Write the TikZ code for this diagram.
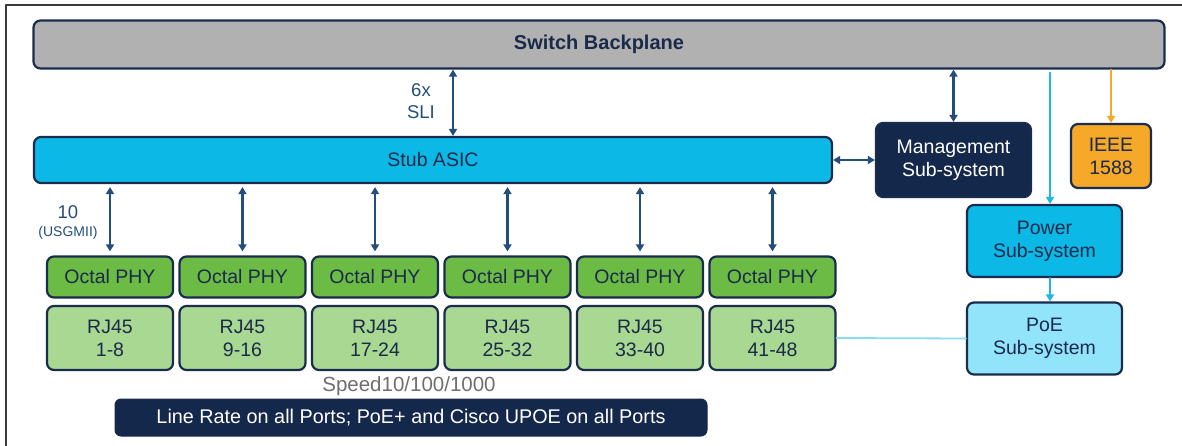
\documentclass[tikz,border=0pt]{standalone}
\usepackage{fontspec}
\setmainfont{Liberation Sans}
\usetikzlibrary{arrows.meta, calc}

\definecolor{navyline}{HTML}{1A2C4E}
\definecolor{navytext}{HTML}{1B2A4A}
\definecolor{arrowblue}{HTML}{234E7C}
\definecolor{planegray}{HTML}{B1B1B1}
\definecolor{asiccyan}{HTML}{0CB8E6}
\definecolor{phygreen}{HTML}{6CBB45}
\definecolor{rjgreen}{HTML}{A8D891}
\definecolor{mgmtnavy}{HTML}{14284B}
\definecolor{ieeeorange}{HTML}{F6A828}
\definecolor{poecyan}{HTML}{92E4FA}
\definecolor{powerline}{HTML}{1BB8E8}
\definecolor{poeline}{HTML}{8ADCF5}
\definecolor{speedgray}{HTML}{6E6E6E}
\definecolor{framegray}{HTML}{3A3A3A}

\begin{document}
\begin{tikzpicture}[line cap=round,line join=round,x=1pt,y=-1pt,
    box/.style={draw=navyline, line width=2.2pt, rounded corners=7pt, inner sep=0pt, align=center,
        text=navytext, font=\fontsize{19.5}{23}\selectfont},
    phybox/.style={box, fill=phygreen, minimum width=126pt, minimum height=41pt},
    rjbox/.style={box, fill=rjgreen, minimum width=126pt, minimum height=64pt},
    subbox/.style={box, minimum width=155pt, minimum height=72pt},
    biarrow/.style={arrowblue, line width=2.2pt, {Triangle[width=8pt,length=7pt]}-{Triangle[width=8pt,length=7pt]}},
    onearrow/.style={line width=2pt, -{Triangle[width=8pt,length=7pt]}},
    lbl/.style={text=arrowblue, font=\fontsize{18.5}{22}\selectfont, align=center, inner sep=0pt}]
    \useasboundingbox (0,0) rectangle (1182,446);

    % outer frame
    \draw [framegray, line width=2.2pt] (6,446) -- (6,5) -- (1182,5);

    % backplane and asic
    \draw (599,44.5) node[box, fill=planegray, minimum width=1131pt, minimum height=48pt,
        font=\fontsize{20}{24}\selectfont\bfseries] (backplane) {Switch Backplane};
    \draw (433,160) node[box, fill=asiccyan, minimum width=798pt, minimum height=46pt] (asic) {Stub ASIC};

    % right hand side
    \draw (953.5,160) node[subbox, fill=mgmtnavy, text=white, minimum height=74pt] (mgmt) {Management\\Sub-system};
    \draw (1111,156) node[box, fill=ieeeorange, minimum width=80pt, minimum height=64pt] (ieee) {IEEE\\1588};
    \draw (1044.5,241) node[subbox, fill=asiccyan] (power) {Power\\Sub-system};
    \draw (1044.5,338.5) node[subbox, fill=poecyan] (poe) {PoE\\Sub-system};

    % octal phys
    \draw (110,277) node[phybox] (phyA) {Octal PHY};
    \draw (242.5,277) node[phybox] (phyB) {Octal PHY};
    \draw (375,277) node[phybox] (phyC) {Octal PHY};
    \draw (507.5,277) node[phybox] (phyD) {Octal PHY};
    \draw (640,277) node[phybox] (phyE) {Octal PHY};
    \draw (772.5,277) node[phybox] (phyF) {Octal PHY};

    % rj45 ports
    \draw (110,338) node[rjbox] (rjA) {RJ45\\1-8};
    \draw (242.5,338) node[rjbox] (rjB) {RJ45\\9-16};
    \draw (375,338) node[rjbox] (rjC) {RJ45\\17-24};
    \draw (507.5,338) node[rjbox] (rjD) {RJ45\\25-32};
    \draw (640,338) node[rjbox] (rjE) {RJ45\\33-40};
    \draw (772.5,338) node[rjbox] (rjF) {RJ45\\41-48};

    % bottom notes
    \draw (409,386) node[text=speedgray, font=\fontsize{20.5}{24}\selectfont] (speed) {Speed10/100/1000};
    \draw (411,417.5) node[box, fill=mgmtnavy, text=white, minimum width=592pt, minimum height=37pt,
        rounded corners=6pt, line width=1pt, font=\fontsize{19.8}{23}\selectfont] (banner) {Line Rate on all Ports; PoE+ and Cisco UPOE on all Ports};

    % labels
    \draw (421,101) node[lbl] (sli) {6x\\SLI};
    \draw (68,212) node[lbl] (ten) {10};
    \draw (68,233) node[lbl, font=\fontsize{14}{16}\selectfont] (usgmii) {(USGMII)};

    % connectors
    \draw[biarrow] ([xshift=20pt]backplane.south -| asic.north) -- ([xshift=20pt]asic.north);
    \draw[biarrow] (mgmt.north |- backplane.south) -- (mgmt.north);
    \draw[biarrow] (asic.east) -- (mgmt.west);
    \draw[onearrow, ieeeorange] (ieee.north |- backplane.south) -- (ieee.north);
    \draw[onearrow, powerline, shorten <=3pt] ([xshift=5.5pt]power.north |- backplane.south) -- ([xshift=5.5pt]power.north);
    \draw[onearrow, powerline] ([xshift=5.5pt]power.south) -- ([xshift=5.5pt]poe.north);
    \draw[poeline, line width=1.8pt] (rjF.east) -- (poe.west);

    \draw[biarrow, shorten <=3pt, shorten >=4pt] (asic.south -| phyA.north) -- (phyA.north);
    \draw[biarrow, shorten <=3pt, shorten >=4pt] (asic.south -| phyB.north) -- (phyB.north);
    \draw[biarrow, shorten <=3pt, shorten >=4pt] (asic.south -| phyC.north) -- (phyC.north);
    \draw[biarrow, shorten <=3pt, shorten >=4pt] (asic.south -| phyD.north) -- (phyD.north);
    \draw[biarrow, shorten <=3pt, shorten >=4pt] (asic.south -| phyE.north) -- (phyE.north);
    \draw[biarrow, shorten <=3pt, shorten >=4pt] (asic.south -| phyF.north) -- (phyF.north);

\end{tikzpicture}
\end{document}
